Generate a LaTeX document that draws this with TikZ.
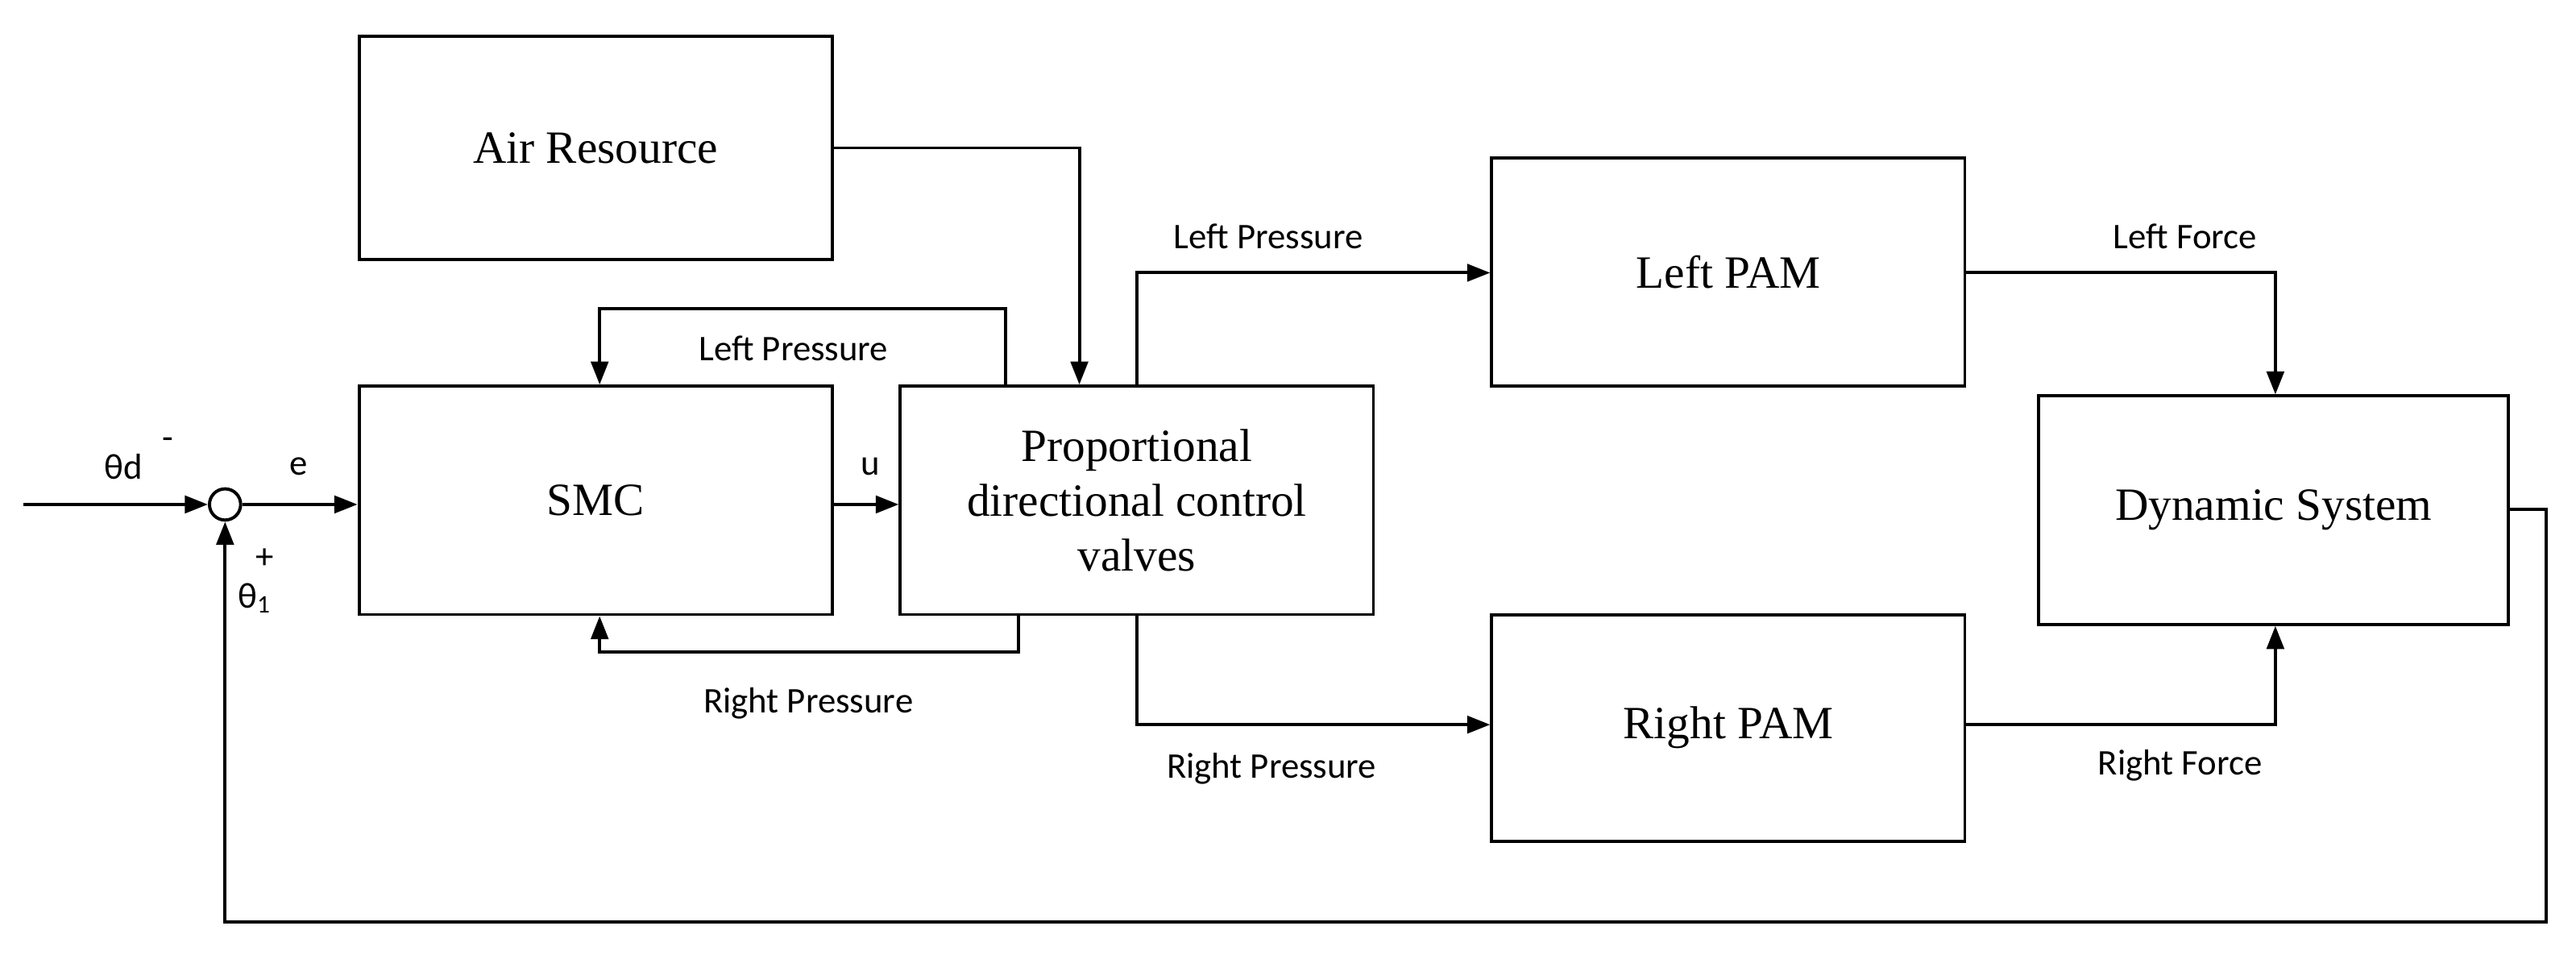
\documentclass[tikz,border=0pt]{standalone}
\usepackage{fontspec}
\setmainfont{Liberation Serif}
\newfontfamily\lab{Carlito}
\usetikzlibrary{arrows.meta}
\begin{document}
\begin{tikzpicture}[x=0.02cm,y=-0.02cm,
  blk/.style={draw,line width=1.1pt,minimum width=5.76cm,minimum height=2.78cm,font=\fontsize{16}{19}\selectfont,align=center,inner sep=0pt},
  lbl/.style={font=\lab\fontsize{12.5}{15}\selectfont},
  ln/.style={line width=1.1pt},
  ar/.style={ln,-{Triangle[length=8pt,width=6pt]}}]
\useasboundingbox (0,0) rectangle (1568,581);
\node[blk,minimum height=2.72cm] (air) at (362.5,90) {Air Resource};
\node[blk] (smc) at (362.5,304.5) {SMC};
\node[blk] (pdcv) at (692,304.5) {Proportional\\directional control\\valves};
\node[blk] (lpam) at (1052,165.5) {Left PAM};
\node[blk,minimum height=2.76cm] (rpam) at (1052,443) {Right PAM};
\node[blk,minimum width=5.72cm] (dyn) at (1384,310.5) {Dynamic System};
\node[draw,line width=1.1pt,circle,minimum size=0.38cm,inner sep=0pt] (sum) at (137,307) {};
\coordinate (in) at (14,307);
\draw[ar] (in) -- (sum);
\draw[ar] (sum) -- (smc.west |- sum);
\draw[ar] (smc.east |- sum) -- (pdcv.west |- sum);
\node[lbl] (td) at (75,284) {θd};
\node[lbl] (mi) at (102,270) {-};
\node[lbl] (e) at (182,284) {e};
\node[lbl] (u) at (530,284) {u};
\node[lbl] (pl) at (161,340) {+};
\node[lbl] (t1) at (155,364) {θ\textsubscript{1}};
% feedback loops around SMC
\coordinate (a1) at (612,188); \coordinate (a2) at (365,188);
\draw[ar] (pdcv.north -| a1) -- (a1) -- (a2) -- (smc.north -| a2);
\node[lbl] (lp1) at (483,212) {Left Pressure};
\coordinate (b1) at (620,397); \coordinate (b2) at (365,397);
\draw[ar] (pdcv.south -| b1) -- (b1) -- (b2) -- (smc.south -| b2);
\node[lbl] (rp1) at (492,428) {Right Pressure};
% air
\coordinate (c1) at (657,90);
\draw[ar] (air.east) -- (c1) -- (pdcv.north -| c1);
% to PAMs
\coordinate (d1) at (692,166);
\draw[ar] (pdcv.north -| d1) -- (d1) -- (lpam.west |- d1);
\node[lbl] (lp2) at (772,144) {Left Pressure};
\coordinate (f1) at (692,441);
\draw[ar] (pdcv.south -| f1) -- (f1) -- (rpam.west |- f1);
\node[lbl] (rp2) at (774,468) {Right Pressure};
% forces
\coordinate (g1) at (1385,166);
\draw[ar] (lpam.east |- g1) -- (g1) -- (dyn.north -| g1);
\node[lbl] (lf) at (1330,144) {Left Force};
\coordinate (h1) at (1385,441);
\draw[ar] (rpam.east |- h1) -- (h1) -- (dyn.south -| h1);
\node[lbl] (rf) at (1327,466) {Right Force};
% main feedback
\coordinate (k1) at (1550,310); \coordinate (k2) at (1550,561); \coordinate (k3) at (137,561);
\draw[ar] (dyn.east |- k1) -- (k1) -- (k2) -- (k3) -- (sum.south);
\end{tikzpicture}
\end{document}
